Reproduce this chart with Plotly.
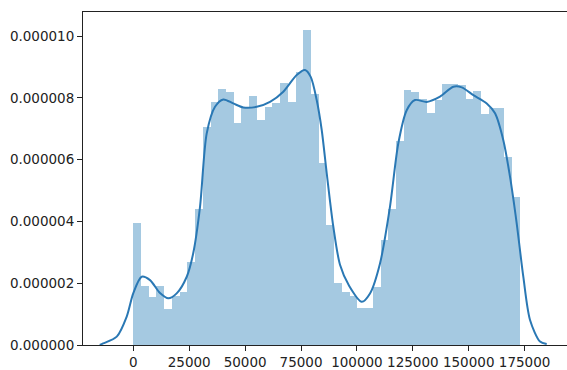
import numpy as np
import plotly.graph_objects as go

# Histogram (density, 50 bins over 0..172792), values in units of 1e-6
hist_start = 0.0
hist_end = 172792.0
hist_density_e6 = [
    3.96, 1.90, 1.56, 1.90, 1.15, 1.60, 1.70, 2.70, 4.40, 7.05,
    7.87, 8.30, 8.20, 7.18, 7.66, 8.05, 7.30, 7.71, 7.83, 8.49,
    7.88, 8.85, 10.20, 8.12, 5.90, 3.90, 2.00, 1.70, 1.60, 1.20,
    1.20, 1.89, 3.40, 4.40, 6.60, 8.25, 8.20, 7.95, 7.50, 7.93,
    8.44, 8.44, 8.42, 7.95, 8.23, 7.48, 7.66, 7.66, 6.09, 4.80,
]

# KDE curve points (x, density in 1e-6)
kde_x = [-15000, -13500, -7400, -2950, 0, 3750, 7470, 11940, 15650, 19400,
         23900, 26800, 29830, 32830, 36540, 40250, 44720, 49200, 55190, 61140,
         67080, 73080, 76790, 79340, 82020, 84260, 86500, 89450, 92440, 96500,
         102150, 105860, 110330, 114800, 118520, 122270, 125980, 131210, 137170, 143140,
         146890, 152080, 158070, 161780, 165480, 168470, 171460, 174420, 177420, 181890,
         184880]
kde_y_e6 = [0.0, 0.05, 0.27, 0.92, 1.68, 2.21, 2.10, 1.68, 1.51, 1.67,
            2.21, 2.97, 4.47, 6.85, 7.71, 7.95, 7.82, 7.69, 7.71, 7.87,
            8.20, 8.74, 8.90, 8.68, 7.93, 6.96, 5.56, 3.83, 2.60, 1.92,
            1.40, 1.67, 2.64, 4.48, 6.53, 7.60, 7.93, 7.87, 8.04, 8.36,
            8.34, 8.09, 7.82, 7.50, 6.63, 5.45, 3.94, 2.21, 0.81, 0.11,
            0.03]

x_tick_vals = [0, 25000, 50000, 75000, 100000, 125000, 150000, 175000]
x_tick_text = ["0", "25000", "50000", "75000", "100000", "125000", "150000", "175000"]
y_tick_vals = [0, 2e-6, 4e-6, 6e-6, 8e-6, 10e-6]
y_tick_text = ["0.000000", "0.000002", "0.000004", "0.000006", "0.000008", "0.000010"]

n_bins = len(hist_density_e6)
edges = np.linspace(hist_start, hist_end, n_bins + 1)
centers = (edges[:-1] + edges[1:]) / 2
width = edges[1] - edges[0]
hist_y = [v * 1e-6 for v in hist_density_e6]
kde_y = [v * 1e-6 for v in kde_y_e6]

fig = go.Figure()
fig.add_trace(go.Bar(
    x=centers, y=hist_y, width=width,
    marker=dict(color="rgba(31,119,180,0.4)", line=dict(width=0)),
    showlegend=False, hoverinfo="skip",
))
fig.add_trace(go.Scatter(
    x=kde_x, y=kde_y, mode="lines",
    line=dict(color="#2a78b4", width=2, shape="spline", smoothing=0.8),
    showlegend=False, hoverinfo="skip",
))

font = dict(family="DejaVu Sans", size=13.5, color="#222222")
fig.update_layout(
    width=567, height=370,
    margin=dict(l=83, r=0, t=12, b=25),
    paper_bgcolor="white", plot_bgcolor="white",
    bargap=0, font=font,
)
fig.update_xaxes(
    range=[-22500, 193960],
    tickvals=x_tick_vals, ticktext=x_tick_text,
    showgrid=False, zeroline=False,
    showline=True, mirror=True, linecolor="#222222", linewidth=1,
    ticks="outside", ticklen=5, tickcolor="#222222", tickwidth=1,
    tickfont=font,
)
fig.update_yaxes(
    range=[0, 10.78e-6],
    tickvals=y_tick_vals, ticktext=y_tick_text,
    showgrid=False, zeroline=False,
    showline=True, mirror=False, linecolor="#222222", linewidth=1,
    ticks="outside", ticklen=5, tickcolor="#222222", tickwidth=1,
    tickfont=font,
)

fig.write_html("out.html")
